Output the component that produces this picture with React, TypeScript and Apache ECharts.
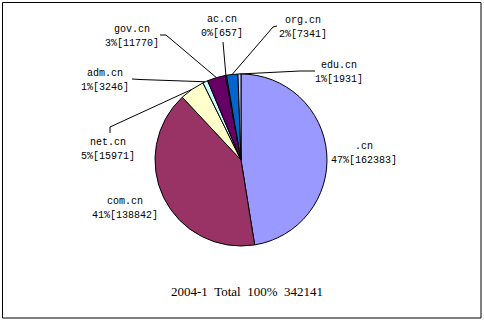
import React, { useEffect, useRef } from "react";
import * as echarts from "echarts";

const names = [".cn", "com.cn", "net.cn", "adm.cn", "gov.cn", "ac.cn", "org.cn", "edu.cn"];
const counts = [162383, 138842, 15971, 3246, 11770, 657, 7341, 1931];
const colors = ["#9999FF", "#993366", "#FFFFCC", "#CCFFFF", "#660066", "#FF8080", "#0066CC", "#CCCCFF"];
const footer = "2004-1  Total  100%  342141";

// label layout (centre of each two-line label) and leader-line bend/end points
const labelLayoutByIndex: { x: number; y: number; line?: number[][] }[] = [
  { x: 364, y: 153 },
  { x: 125, y: 208 },
  { x: 108, y: 149, line: [[110, 127], [110, 133]] },
  { x: 105, y: 80, line: [[140, 79.5], [132, 79]] },
  { x: 132, y: 36, line: [[166, 35], [160, 35]] },
  { x: 222, y: 26, line: [[223, 42], [223, 42]] },
  { x: 303, y: 27, line: [[273, 27], [277, 26]] },
  { x: 339, y: 72, line: [[300, 71], [315, 71]] },
];

export default function App() {
  const ref = useRef<HTMLDivElement>(null);
  useEffect(() => {
    if (!ref.current) return;
    const chart = echarts.init(ref.current, undefined, { renderer: "svg" });
    const total = counts.reduce((a, b) => a + b, 0);
    chart.setOption({
      animation: false,
      backgroundColor: "#ffffff",
      graphic: [
        {
          type: "rect",
          shape: { x: 2.5, y: 2.5, width: 478.5, height: 315.5 },
          style: { fill: "none", stroke: "#000", lineWidth: 1 },
          silent: true,
        },
        {
          type: "text",
          x: 247,
          y: 291,
          style: {
            text: footer,
            fill: "#000",
            font: "13px 'Liberation Serif'",
            textAlign: "center",
            textVerticalAlign: "middle",
          },
        },
      ],
      series: [
        {
          type: "pie",
          center: [241, 160],
          radius: 86,
          startAngle: 90,
          clockwise: true,
          avoidLabelOverlap: false,
          itemStyle: { borderColor: "#000", borderWidth: 1 },
          label: {
            show: true,
            color: "#000",
            fontFamily: "'Liberation Mono', monospace",
            fontSize: 10,
            lineHeight: 14,
            align: "center",
            formatter: (p: any) =>
              `${p.name}\n${Math.round((p.value / total) * 100)}%[${p.value}]`,
          },
          labelLine: {
            show: true,
            lineStyle: { color: "#000", width: 1 },
          },
          labelLayout: (p: any) => {
            const L = labelLayoutByIndex[p.dataIndex];
            const res: any = { x: L.x, y: L.y, align: "center", verticalAlign: "middle" };
            if (L.line && p.labelLinePoints) {
              res.labelLinePoints = [p.labelLinePoints[0], L.line[0], L.line[1]];
            }
            return res;
          },
          data: names.map((n, i) => ({
            name: n,
            value: counts[i],
            itemStyle: { color: colors[i] },
            labelLine: { show: i > 1 },
          })),
        },
      ],
    });
    return () => chart.dispose();
  }, []);
  return (
    <div
      ref={ref}
      style={{ position: "fixed", left: 0, top: 0, width: 484, height: 322 }}
    />
  );
}
